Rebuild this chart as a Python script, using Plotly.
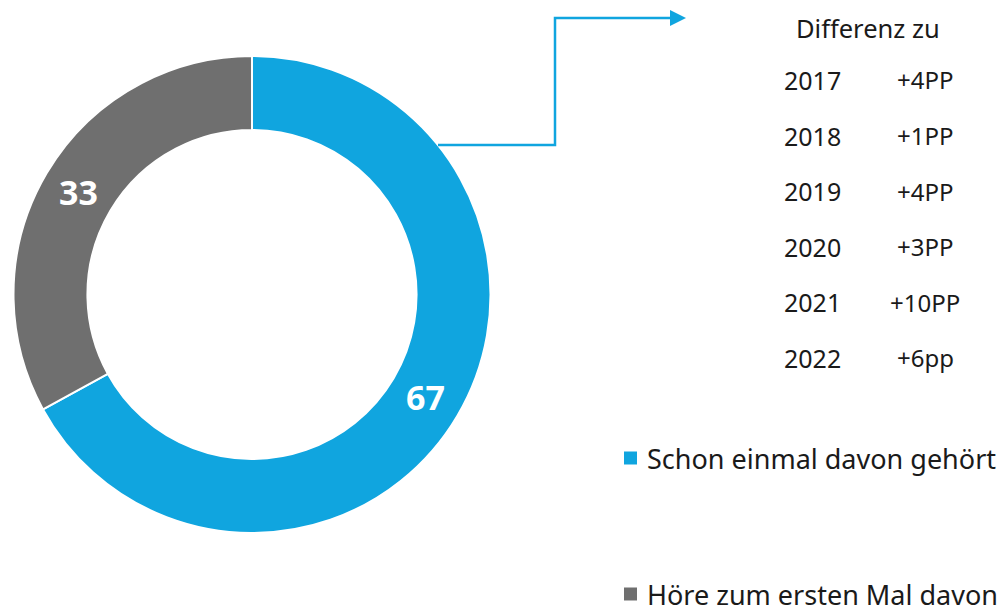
import plotly.graph_objects as go

# Donut shares
labels = ["Schon einmal davon gehört", "Höre zum ersten Mal davon"]
values = [67, 33]
colors = ["#10A5DF", "#6F6F6F"]

# Change table beside the donut
table_title = "Differenz zu"
years = ["2017", "2018", "2019", "2020", "2021", "2022"]
diffs = ["+4PP", "+1PP", "+4PP", "+3PP", "+10PP", "+6pp"]

W, H = 1005, 612
TEXT = "#1A1A1A"
FONT = "Noto Sans"


def px(x):
    return x / W


def py(y):
    return 1 - y / H


fig = go.Figure()

# donut centred at (252, 294.5) with an outer radius of ~238.5 px
cx, cy, r = 252, 294.5, 238.5
fig.add_trace(go.Pie(
    labels=labels,
    values=values,
    hole=0.69,
    sort=False,
    direction="clockwise",
    rotation=0,
    marker=dict(colors=colors, line=dict(color="white", width=2)),
    textinfo="value",
    textposition="inside",
    insidetextorientation="horizontal",
    insidetextfont=dict(family="Open Sans", size=34, color="white", weight="bold"),
    hoverinfo="skip",
    showlegend=False,
    domain=dict(x=[px(cx - r), px(cx + r)], y=[py(cy + r), py(cy - r)]),
))

annotations = []
annotations.append(dict(
    x=px(868), y=py(28), xref="paper", yref="paper", text=table_title,
    showarrow=False, xanchor="center", yanchor="middle",
    font=dict(family=FONT, size=25.5, color=TEXT),
))
row0, step = 80, 55.5
for i, (yr, d) in enumerate(zip(years, diffs)):
    yy = row0 + i * step
    annotations.append(dict(
        x=px(812), y=py(yy), xref="paper", yref="paper", text=yr,
        showarrow=False, xanchor="center", yanchor="middle",
        font=dict(family=FONT, size=25, color=TEXT),
    ))
    annotations.append(dict(
        x=px(925), y=py(yy), xref="paper", yref="paper", text=d,
        showarrow=False, xanchor="center", yanchor="middle",
        font=dict(family=FONT, size=24, color=TEXT),
    ))

# legend entries: coloured square + label
legend_y = [458, 594]
for lab, col, ly in zip(labels, colors, legend_y):
    annotations.append(dict(
        x=px(645), y=py(ly), xref="paper", yref="paper", text=lab,
        showarrow=False, xanchor="left", yanchor="middle",
        font=dict(family=FONT, size=27, color=TEXT),
    ))

shapes = []
for col, ly in zip(colors, legend_y):
    shapes.append(dict(
        type="rect", xref="paper", yref="paper",
        x0=px(624), x1=px(637), y0=py(ly - 6.5), y1=py(ly + 6.5),
        fillcolor=col, line=dict(width=0),
    ))

# connector from the blue slice up to the table
pts = [(438, 145), (555, 145), (555, 18), (672, 18)]
path = "M " + " L ".join(f"{px(x)},{py(y)}" for x, y in pts)
shapes.append(dict(type="path", xref="paper", yref="paper", path=path,
                   line=dict(color=colors[0], width=2.5)))
tri = [(670, 10), (686, 18), (670, 26)]
shapes.append(dict(type="path", xref="paper", yref="paper",
                   path="M " + " L ".join(f"{px(x)},{py(y)}" for x, y in tri) + " Z",
                   fillcolor=colors[0], line=dict(width=0)))

fig.update_layout(
    width=W, height=H,
    margin=dict(l=0, r=0, t=0, b=0),
    paper_bgcolor="white", plot_bgcolor="white",
    showlegend=False,
    annotations=annotations,
    shapes=shapes,
)

fig.write_html("out.html")
